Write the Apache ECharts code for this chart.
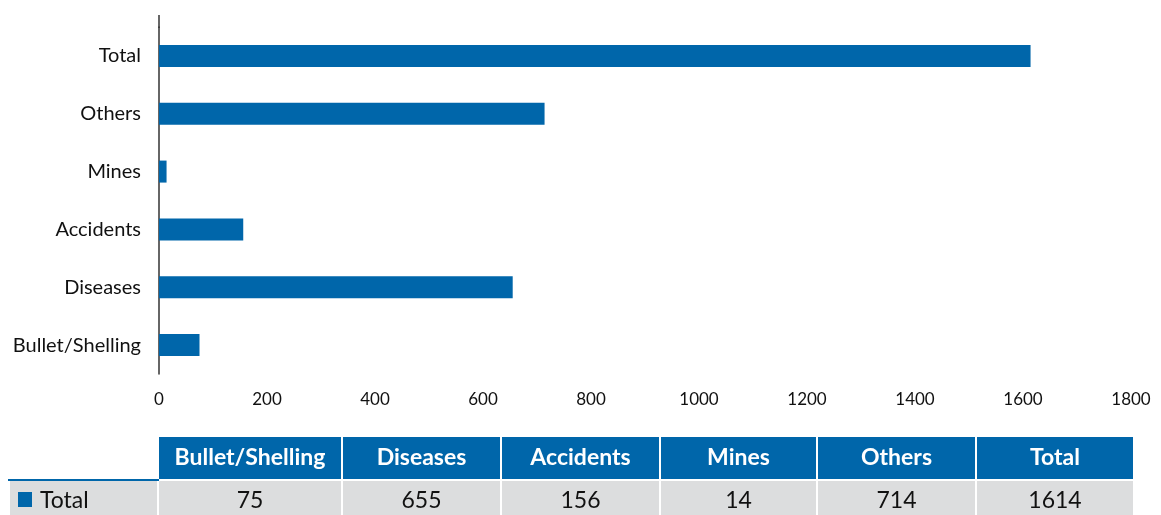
<!DOCTYPE html>
<html><head><meta charset="utf-8">
<script src="https://cdn.jsdelivr.net/npm/echarts@6/dist/echarts.min.js"></script>
<style>html,body{margin:0;padding:0;background:#fff}#c{width:1161px;height:515px}</style>
</head><body><div id="c"></div>
<script>
const categories = ['Bullet/Shelling','Diseases','Accidents','Mines','Others','Total'];
const values = [75, 655, 156, 14, 714, 1614];
const seriesName = 'Total';
const xTicks = {min: 0, max: 1800, interval: 200};

const BLUE = '#0066AA';
const GRAY = '#DCDDDE';
const FONT = 'Lato, "Noto Sans", sans-serif';

// table layout
const colEdges = [159, 343, 502, 661, 818, 977, 1135];
const headY = 437, headH = 42, rowY = 481, rowH = 40;
const g = [];
categories.forEach((c, i) => {
  const x0 = colEdges[i], x1 = colEdges[i+1];
  g.push({type:'rect', shape:{x:x0, y:headY, width:x1-x0-2, height:headH}, style:{fill:BLUE}});
  g.push({type:'text', x:(x0+x1-2)/2, y:headY+headH/2, style:{text:c, fill:'#fff', font:'bold 23px '+FONT, align:'center', verticalAlign:'middle'}});
  g.push({type:'rect', shape:{x:x0, y:rowY, width:x1-x0-2, height:rowH}, style:{fill:GRAY}});
  g.push({type:'text', x:(x0+x1-2)/2, y:rowY+20, style:{text:String(values[i]), fill:'#111', font:'23px '+FONT, align:'center', verticalAlign:'middle'}});
});
g.push({type:'rect', shape:{x:10, y:rowY, width:147, height:rowH}, style:{fill:GRAY}});
g.push({type:'rect', shape:{x:8, y:479, width:151, height:2}, style:{fill:BLUE}});
g.push({type:'rect', shape:{x:18, y:492, width:14, height:15}, style:{fill:BLUE}});
g.push({type:'text', x:40, y:rowY+20, style:{text:seriesName, fill:'#111', font:'23px '+FONT, align:'left', verticalAlign:'middle'}});
// upper extension of the y axis line
g.push({type:'line', shape:{x1:159, y1:15, x2:159, y2:28}, style:{stroke:'#333', lineWidth:1.5}});

const chart = echarts.init(document.getElementById('c'), null, {renderer:'canvas'});
chart.setOption({
  animation:false,
  backgroundColor:'#fff',
  grid:{left:159, top:27, width:972, height:347, containLabel:false},
  xAxis:{type:'value', min:xTicks.min, max:xTicks.max, interval:xTicks.interval,
    axisLine:{show:false}, axisTick:{show:false}, splitLine:{show:false},
    axisLabel:{color:'#111', fontSize:17, fontFamily:FONT, margin:17, formatter:v => String(v)}},
  yAxis:{type:'category', data:categories,
    axisLine:{show:true, lineStyle:{color:'#333', width:1.5}}, axisTick:{show:false},
    axisLabel:{color:'#111', fontSize:20, fontFamily:FONT, margin:18}},
  series:[{name:seriesName, type:'bar', data:values, barWidth:22, itemStyle:{color:BLUE}}],
  graphic:g
});
</script></body></html>
